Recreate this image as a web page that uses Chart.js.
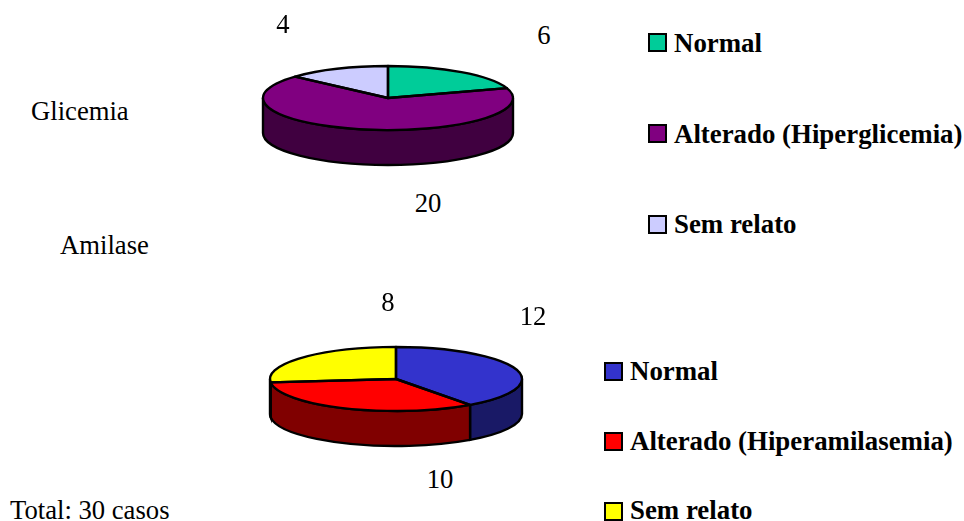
<!DOCTYPE html>
<html>
<head>
<meta charset="utf-8">
<title>Glicemia e Amilase</title>
<script src="https://cdn.jsdelivr.net/npm/chart.js@4"></script>
<style>
    html, body { margin: 0; padding: 0; background: #fff; }
    body { position: relative; width: 964px; height: 521px; overflow: hidden;
           font-family: "Liberation Serif", serif; font-size: 26.67px; color: #000; }
    canvas { position: absolute; }
    .txt { position: absolute; white-space: nowrap; line-height: 22px; height: 22px; }
    .val { transform: translateX(-50%); }
    .leg { font-weight: bold; font-size: 26.85px; }
    .box { position: absolute; width: 15px; height: 15px; border: 2px solid #000; }
</style>
</head>
<body>
<canvas id="glicemiaChart" width="260" height="140" style="left:258px;top:28px"></canvas>
<canvas id="amilaseChart" width="262" height="140" style="left:265px;top:309px"></canvas>
<script>
const glicemiaLabels = ['Normal', 'Alterado (Hiperglicemia)', 'Sem relato'];
const glicemiaValues = [6, 20, 4];
const glicemiaColors = ['#00cc99', '#800080', '#ccccff'];
const glicemiaSides = ['#006650', '#400040', '#666680'];

const amilaseLabels = ['Normal', 'Alterado (Hiperamilasemia)', 'Sem relato'];
const amilaseValues = [12, 10, 8];
const amilaseColors = ['#3333cc', '#ff0000', '#ffff00'];
const amilaseSides = ['#191966', '#800000', '#808000'];

const outlineWidth = 2.4;

// flattens the pie into an ellipse and gives it a side wall
const tiltedPie = {
    id: 'tiltedPie',
    beforeDatasetsDraw(chart, args, opts) {
        const ctx = chart.ctx;
        const arcs = chart.getDatasetMeta(0).data;
        const { x, y, outerRadius: r } = arcs[0];
        const ry = r * opts.squash;
        ctx.save();
        ctx.lineWidth = outlineWidth;
        ctx.strokeStyle = '#000';
        arcs.forEach((arc, i) => {
            const a = Math.max(arc.startAngle, 0);
            const b = Math.min(arc.endAngle, Math.PI);
            if (a >= b) return;
            ctx.beginPath();
            ctx.ellipse(x, y, r, ry, 0, a, b);
            ctx.ellipse(x, y + opts.depth, r, ry, 0, b, a, true);
            ctx.closePath();
            ctx.fillStyle = opts.sides[i];
            ctx.fill();
            ctx.stroke();
        });
        ctx.restore();
        ctx.save();
        ctx.translate(x, y);
        ctx.scale(1, opts.squash);
        ctx.translate(-x, -y);
    },
    afterDatasetsDraw(chart, args, opts) {
        const ctx = chart.ctx;
        ctx.restore();
        const arcs = chart.getDatasetMeta(0).data;
        const { x, y, outerRadius: r } = arcs[0];
        ctx.save();
        ctx.lineWidth = outlineWidth;
        ctx.strokeStyle = '#000';
        ctx.lineJoin = 'round';
        arcs.forEach(arc => {
            ctx.beginPath();
            ctx.moveTo(x, y);
            ctx.ellipse(x, y, r, r * opts.squash, 0, arc.startAngle, arc.endAngle);
            ctx.closePath();
            ctx.stroke();
        });
        ctx.restore();
    }
};

function drawPie(id, labels, values, colors, sides, radius, squash, depth) {
    return new Chart(document.getElementById(id), {
        type: 'pie',
        data: {
            labels: labels,
            datasets: [{ data: values, backgroundColor: colors, borderWidth: 0, clip: false }]
        },
        options: {
            responsive: false,
            animation: false,
            radius: radius,
            events: [],
            plugins: {
                legend: { display: false },
                tooltip: { enabled: false },
                tiltedPie: { squash: squash, depth: depth, sides: sides }
            }
        },
        plugins: [tiltedPie]
    });
}

drawPie('glicemiaChart', glicemiaLabels, glicemiaValues, glicemiaColors, glicemiaSides, 125, 0.256, 35);
drawPie('amilaseChart', amilaseLabels, amilaseValues, amilaseColors, amilaseSides, 126, 0.254, 35);

function addText(str, left, top, cls) {
    const el = document.createElement('div');
    el.className = 'txt ' + (cls || '');
    el.textContent = str;
    el.style.left = left + 'px';
    el.style.top = top + 'px';
    document.body.appendChild(el);
}

function addLegend(labels, colors, boxLeft, boxTops, rowTops) {
    labels.forEach((label, i) => {
        const box = document.createElement('div');
        box.className = 'box';
        box.style.left = boxLeft + 'px';
        box.style.top = boxTops[i] + 'px';
        box.style.background = colors[i];
        document.body.appendChild(box);
        addText(label, boxLeft + 26, rowTops[i], 'leg');
    });
}

addText('Glicemia', 31, 100);
addText('Amilase', 60, 234);
addText('Total: 30 casos', 10, 499);

// value labels sit around each pie: normal, altered, no report
[[544, 24], [428, 192], [283, 13]].forEach((p, i) => addText(glicemiaValues[i], p[0], p[1], 'val'));
[[533, 305], [440, 468], [388, 291]].forEach((p, i) => addText(amilaseValues[i], p[0], p[1], 'val'));

addLegend(glicemiaLabels, glicemiaColors, 648, [33, 124, 215], [32, 123, 213]);
addLegend(amilaseLabels, amilaseColors, 604, [362, 432, 502], [360, 430, 499]);
</script>
</body>
</html>
